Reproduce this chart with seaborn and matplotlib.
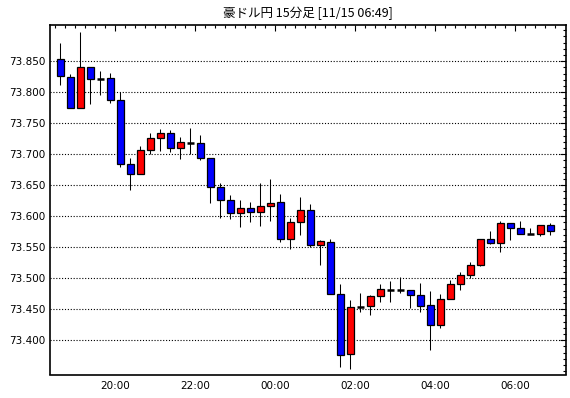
import numpy as np
import pandas as pd
import matplotlib
matplotlib.use("Agg")
import matplotlib.pyplot as plt
import seaborn as sns
from matplotlib.ticker import FixedLocator, MultipleLocator, FixedFormatter

# ---------------- data ----------------
title = "豪ドル円 15分足 [11/15 06:49]"
bar_times = [t.strftime("%H:%M") for t in
             pd.date_range("2023-11-14 18:30", periods=50, freq="15min")]

opens = [73.853, 73.824, 73.774, 73.840, 73.822, 73.823, 73.787, 73.684, 73.668, 73.707,
         73.727, 73.734, 73.710, 73.718, 73.718, 73.694, 73.647, 73.626, 73.605, 73.613,
         73.607, 73.616, 73.623, 73.564, 73.590, 73.610, 73.553, 73.559, 73.474, 73.378,
         73.454, 73.455, 73.471, 73.481, 73.481, 73.481, 73.473, 73.457, 73.424, 73.467,
         73.490, 73.506, 73.521, 73.563, 73.557, 73.589, 73.581, 73.571, 73.571, 73.586]
highs = [73.880, 73.829, 73.898, 73.840, 73.834, 73.831, 73.800, 73.694, 73.713, 73.734,
         73.741, 73.739, 73.728, 73.742, 73.731, 73.694, 73.653, 73.635, 73.626, 73.623,
         73.654, 73.660, 73.636, 73.597, 73.631, 73.620, 73.561, 73.563, 73.490, 73.465,
         73.476, 73.473, 73.490, 73.495, 73.502, 73.481, 73.492, 73.480, 73.474, 73.497,
         73.510, 73.527, 73.563, 73.576, 73.592, 73.589, 73.592, 73.581, 73.586, 73.589]
lows = [73.812, 73.774, 73.774, 73.781, 73.795, 73.782, 73.680, 73.643, 73.668, 73.700,
        73.706, 73.704, 73.693, 73.700, 73.691, 73.622, 73.597, 73.596, 73.583, 73.590,
        73.585, 73.593, 73.559, 73.548, 73.569, 73.550, 73.522, 73.474, 73.357, 73.354,
        73.445, 73.441, 73.462, 73.461, 73.477, 73.452, 73.446, 73.385, 73.419, 73.467,
        73.481, 73.500, 73.519, 73.555, 73.543, 73.561, 73.571, 73.571, 73.568, 73.570]
closes = [73.826, 73.774, 73.840, 73.821, 73.822, 73.787, 73.684, 73.668, 73.707, 73.727,
          73.734, 73.710, 73.719, 73.718, 73.694, 73.648, 73.626, 73.605, 73.613, 73.607,
          73.616, 73.621, 73.564, 73.590, 73.610, 73.553, 73.560, 73.474, 73.377, 73.453,
          73.454, 73.471, 73.482, 73.481, 73.481, 73.473, 73.456, 73.424, 73.467, 73.490,
          73.506, 73.521, 73.563, 73.557, 73.589, 73.581, 73.571, 73.571, 73.586, 73.576]

x_tick_labels = ["20:00", "22:00", "00:00", "02:00", "04:00", "06:00"]
y_tick_values = [73.400, 73.450, 73.500, 73.550, 73.600, 73.650, 73.700, 73.750, 73.800, 73.850]

UP = "#ff0000"
DOWN = "#0000ff"

df = pd.DataFrame({"time": bar_times, "open": opens, "high": highs,
                   "low": lows, "close": closes})
df["pos"] = np.arange(len(df))
df["lo_body"] = df[["open", "close"]].min(axis=1)
df["hi_body"] = df[["open", "close"]].max(axis=1)
df["color"] = np.where(df["close"] > df["open"], UP,
                       np.where(df["close"] < df["open"], DOWN, "black"))

# ---------------- style ----------------
sns.set_theme(style="white")
plt.rcParams["font.family"] = ["DejaVu Sans"]

W, H = 570, 398
fig = plt.figure(figsize=(W / 100, H / 100), dpi=100)
fig.patch.set_facecolor("white")
left, right, top, bottom = 49.5, 565.7, 24.7, 374.5
ax = fig.add_axes([left / W, (H - bottom) / H, (right - left) / W, (bottom - top) / H])
ax.set_facecolor("white")

# wicks
ax.vlines(df["pos"], df["low"], df["high"], color="black", linewidth=0.75, zorder=2)

# bodies
body = df[df["close"] != df["open"]]
ax.bar(body["pos"], body["hi_body"] - body["lo_body"], bottom=body["lo_body"],
       width=0.66, color=body["color"], edgecolor="black", linewidth=0.9, zorder=3)

# flat (doji) bodies
flat = df[df["close"] == df["open"]]
ax.hlines(flat["open"], flat["pos"] - 0.35, flat["pos"] + 0.35,
          color="black", linewidth=1.8, zorder=3)

# axes limits
ax.set_xlim(-1.1, 50.54)
ax.set_ylim(73.3448, 73.909)

# x ticks: major at 2-hour boundaries, minor at every bar boundary
x_major = [bar_times.index(lbl) - 0.5 for lbl in x_tick_labels]
ax.xaxis.set_major_locator(FixedLocator(x_major))
ax.xaxis.set_major_formatter(FixedFormatter(x_tick_labels))
ax.xaxis.set_minor_locator(FixedLocator(np.arange(len(df) + 1) - 0.5))

ax.yaxis.set_major_locator(FixedLocator(y_tick_values))
ax.yaxis.set_major_formatter(FixedFormatter([f"{v:.3f}" for v in y_tick_values]))
ax.yaxis.set_minor_locator(MultipleLocator(0.01))

ax.tick_params(axis="both", which="both", direction="in", top=True, right=True,
               color="black", labelcolor="black", labelsize=7.5)
ax.tick_params(which="major", length=4.5, width=0.8)
ax.tick_params(which="minor", length=2.5, width=0.8)
ax.tick_params(axis="x", which="major", pad=5)
ax.tick_params(axis="y", which="major", pad=3)

ax.grid(axis="y", which="major", color="black", linestyle=(0, (1, 1.6)), linewidth=0.8)
ax.grid(axis="x", visible=False)
ax.set_axisbelow(True)

for s in ax.spines.values():
    s.set_color("black")
    s.set_linewidth(1.2)
    s.set_visible(True)

ax.set_xlabel("")
ax.set_ylabel("")

fig.text((left + right) / 2 / W, 1 - 13 / H, title, ha="center", va="center",
         fontsize=9, color="black", family=["Noto Sans CJK JP", "DejaVu Sans"])

fig.savefig("out.png", dpi=100, facecolor="white")
